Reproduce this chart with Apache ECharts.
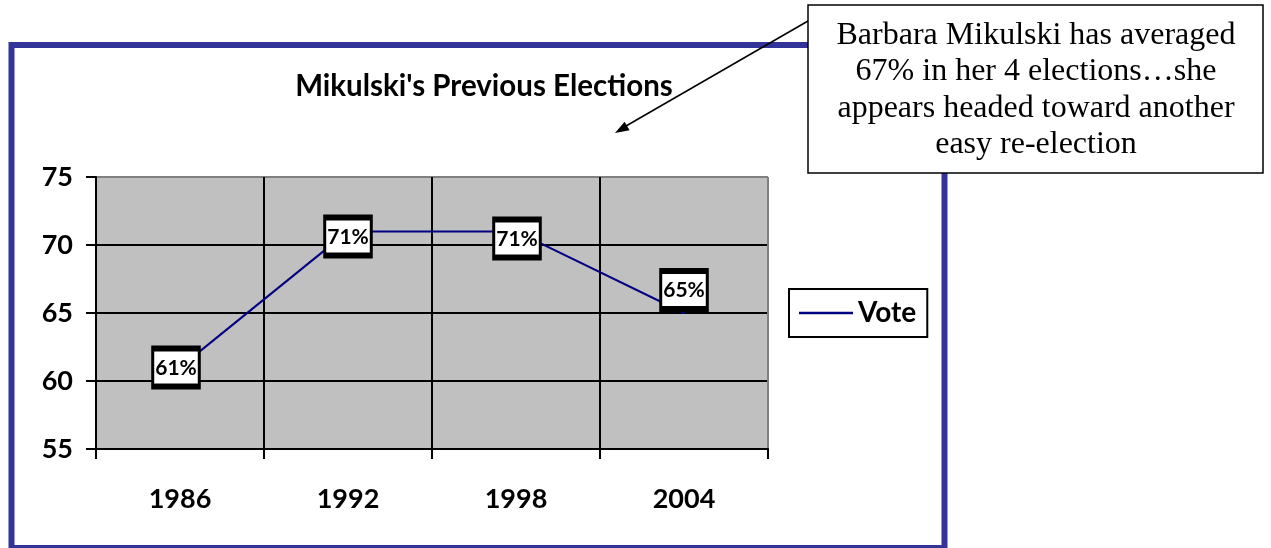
<!DOCTYPE html>
<html>
<head>
<meta charset="utf-8">
<title>Mikulski's Previous Elections</title>
<script src="https://cdn.jsdelivr.net/npm/echarts@6/dist/echarts.min.js"></script>
<style>
  html, body { margin: 0; padding: 0; background: #fff; }
  #main { width: 1271px; height: 548px; }
</style>
</head>
<body>
<div id="main"></div>
<script>
// data
const years = ["1986", "1992", "1998", "2004"];
const votes = [61, 71, 71, 65];
const seriesName = "Vote";
const noteLines = [
  "Barbara Mikulski has averaged",
  "67% in her 4 elections\u2026she",
  "appears headed toward another",
  "easy re-election"
];

// label boxes are nudged a bit like in the original sheet
const labelNudge = [[-4, 0], [0, 5], [1, 7], [0, -23]];

const chart = echarts.init(document.getElementById("main"));
const font = "Lato";

const option = {
  animation: false,
  title: {
    text: "Mikulski's Previous Elections",
    left: 479,
    top: 66,
    textAlign: "center",
    textStyle: { fontFamily: font, fontSize: 29.5, fontWeight: "bold", color: "#000" }
  },
  grid: {
    left: 96, top: 177, width: 672, height: 272,
    show: true,
    backgroundColor: "#c0c0c0",
    borderColor: "#808080",
    borderWidth: 1
  },
  legend: {
    data: [seriesName],
    left: 789,
    top: 289,
    orient: "vertical",
    icon: "rect",
    itemWidth: 54,
    itemHeight: 2.5,
    itemGap: 0,
    padding: [10, 11, 10, 10],
    borderColor: "#000",
    borderWidth: 2,
    backgroundColor: "#fff",
    textStyle: { fontFamily: font, fontSize: 28, fontWeight: "bold", color: "#000" }
  },
  xAxis: {
    type: "category",
    data: years,
    boundaryGap: true,
    axisLine: { lineStyle: { color: "#000", width: 2 } },
    axisTick: { show: true, length: 10, lineStyle: { color: "#000", width: 2 } },
    axisLabel: { margin: 37, fontFamily: font, fontSize: 27, fontWeight: "bold", color: "#000" },
    splitLine: {
      show: true,
      lineStyle: { color: ["#000", "#000", "#000", "#000", "#808080"], width: 2 }
    }
  },
  yAxis: {
    type: "value",
    min: 55,
    max: 75,
    interval: 5,
    axisLine: { show: true, lineStyle: { color: "#000", width: 2 } },
    axisTick: { show: true, length: 10, lineStyle: { color: "#000", width: 2 } },
    axisLabel: { margin: 23, fontFamily: font, fontSize: 27, fontWeight: "bold", color: "#000" },
    splitLine: {
      show: true,
      lineStyle: { color: ["#000", "#000", "#000", "#000", "#808080"], width: 2 }
    }
  },
  series: [{
    name: seriesName,
    type: "line",
    symbol: "circle",
    symbolSize: 2,
    color: "#000080",
    lineStyle: { color: "#000080", width: 2 },
    data: votes.map((v, i) => ({
      value: v,
      label: { offset: labelNudge[i] }
    })),
    label: {
      show: true,
      position: "inside",
      backgroundColor: "#000",
      padding: [6, 3, 6, 3],
      formatter: "{w|{c}%}",
      rich: {
        w: {
          backgroundColor: "#fff",
          padding: [6, 1, 5, 1],
          fontFamily: font,
          fontSize: 21,
          fontWeight: "bold",
          color: "#000"
        }
      }
    },
    z: 3
  }],
  graphic: [
    // blue outer frame of the chart
    {
      type: "rect",
      z: 0,
      shape: { x: 11.5, y: 45, width: 933, height: 503 },
      style: { fill: "none", stroke: "#333399", lineWidth: 6 }
    },
    // arrow from the note
    {
      type: "line",
      z: 20,
      shape: { x1: 808, y1: 21, x2: 626, y2: 126 },
      style: { stroke: "#000", lineWidth: 1.5 }
    },
    {
      type: "polygon",
      z: 20,
      shape: { points: [[615, 133], [629.6, 130.3], [624.6, 121.7]] },
      style: { fill: "#000" }
    },
    // note box
    {
      type: "rect",
      z: 20,
      shape: { x: 808, y: 5, width: 455, height: 168 },
      style: { fill: "#fff", stroke: "#000", lineWidth: 1.5 }
    },
    {
      type: "text",
      z: 21,
      x: 1036,
      y: 90,
      style: {
        text: noteLines.join("\n"),
        fontFamily: "Liberation Serif",
        fontSize: 32,
        lineHeight: 36.5,
        fill: "#000",
        align: "center",
        verticalAlign: "middle"
      }
    }
  ]
};

chart.setOption(option);
</script>
</body>
</html>
